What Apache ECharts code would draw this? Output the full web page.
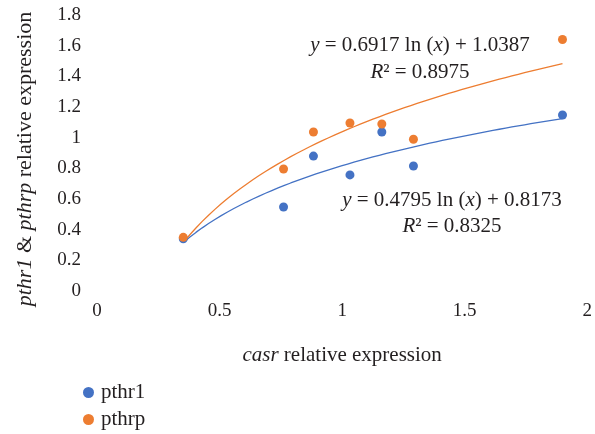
<!DOCTYPE html>
<html>
<head>
<meta charset="utf-8">
<script src="https://cdn.jsdelivr.net/npm/echarts@6/dist/echarts.min.js"></script>
<style>html,body{margin:0;padding:0;background:#fff;}#c{width:595px;height:434px;}</style>
</head>
<body>
<div id="c"></div>
<script>
// casr relative expression (x) for each sample
var casrX = [0.352, 0.761, 0.883, 1.032, 1.162, 1.291, 1.899];
// pthr1 relative expression
var pthr1Y = [0.34, 0.548, 0.88, 0.757, 1.037, 0.815, 1.148];
// pthrp relative expression
var pthrpY = [0.35, 0.796, 1.037, 1.096, 1.089, 0.99, 1.64];
// logarithmic trendline coefficients [a, b, R2] : y = a ln(x) + b
var pthr1Fit = [0.4795, 0.8173, 0.8325];
var pthrpFit = [0.6917, 1.0387, 0.8975];
var xTicks = [0, 0.5, 1, 1.5, 2];
var yTicks = [0, 0.2, 0.4, 0.6, 0.8, 1, 1.2, 1.4, 1.6, 1.8];
var seriesNames = ['pthr1', 'pthrp'];

var FONT = "'Liberation Serif', serif";
var TXT = '#231f20';
var BLUE = '#4472C4', ORANGE = '#ED7D31';
var FS = 21;
function pairs(xs, ys){ return xs.map(function(x,i){ return [x, ys[i]]; }); }
function trend(fit){
  var lo = Math.min.apply(null, casrX), hi = Math.max.apply(null, casrX), out = [];
  for (var k = 0; k <= 60; k++){ var x = lo + (hi-lo)*k/60; out.push([x, fit[0]*Math.log(x)+fit[1]]); }
  return out;
}
function eqText(fit){ return '{i|y}{n| = ' + fit[0].toFixed(4) + ' ln (}{i|x}{n|) + ' + fit[1].toFixed(4) + '}'; }
function r2Text(fit){ return '{i|R}{n|² = ' + fit[2].toFixed(4) + '}'; }
function mkRich(fs){
  return {
    i: { fontStyle: 'italic', fontFamily: FONT, fontSize: fs, fill: TXT, color: TXT },
    n: { fontStyle: 'normal', fontFamily: FONT, fontSize: fs, fill: TXT, color: TXT }
  };
}
function legendFor(name, top){
  return {
    orient: 'vertical', left: 78, top: top, itemWidth: 11, itemHeight: 11, itemGap: 0,
    data: [{name: name, icon: 'circle'}],
    textStyle: { fontFamily: FONT, fontSize: FS, color: TXT, padding: [0,0,0,2] }
  };
}
function eqGraphic(text, x, y){
  return { type: 'text', x: x, y: y, style: { text: text, rich: mkRich(FS), font: FS + "px 'Liberation Serif', serif", fill: TXT, align: 'center', verticalAlign: 'middle', textAlign: 'center', textVerticalAlign: 'middle' } };
}

var chart = echarts.init(document.getElementById('c'));
chart.setOption({
  animation: false,
  backgroundColor: '#fff',
  grid: { left: 97, right: 4, top: 15, bottom: 143, containLabel: false },
  xAxis: {
    type: 'value', min: xTicks[0], max: xTicks[xTicks.length-1], interval: 0.5,
    axisLine: { show: false }, axisTick: { show: false }, splitLine: { show: false },
    axisLabel: { fontFamily: FONT, fontSize: 19, color: TXT, margin: 11 },
    name: '{i|casr}{n| relative expression}', nameLocation: 'middle', nameGap: 54,
    nameTextStyle: { fontFamily: FONT, fontSize: FS, color: TXT, rich: mkRich(FS) }
  },
  yAxis: {
    type: 'value', min: yTicks[0], max: yTicks[yTicks.length-1], interval: 0.2,
    axisLine: { show: false }, axisTick: { show: false }, splitLine: { show: false },
    axisLabel: { fontFamily: FONT, fontSize: 19, color: TXT, margin: 16 },
    name: '{i|pthr1}{n| & }{i|pthrp}{n| relative expression}', nameLocation: 'middle', nameRotate: 90, nameGap: 61,
    nameTextStyle: { fontFamily: FONT, fontSize: 22, color: TXT, rich: mkRich(22), padding: [0, 12, 0, 0] }
  },
  legend: [ legendFor(seriesNames[0], 377), legendFor(seriesNames[1], 404) ],
  series: [
    { name: seriesNames[0], type: 'scatter', data: pairs(casrX, pthr1Y), symbolSize: 9, itemStyle: { color: BLUE, opacity: 1 }, z: 3 },
    { name: seriesNames[1], type: 'scatter', data: pairs(casrX, pthrpY), symbolSize: 9, itemStyle: { color: ORANGE, opacity: 1 }, z: 3 },
    { name: 'pthr1 fit', type: 'line', data: trend(pthr1Fit), showSymbol: false, smooth: false,
      lineStyle: { color: BLUE, width: 1.3 }, z: 2 },
    { name: 'pthrp fit', type: 'line', data: trend(pthrpFit), showSymbol: false, smooth: false,
      lineStyle: { color: ORANGE, width: 1.3 }, z: 2 }
  ],
  graphic: [
    eqGraphic(eqText(pthrpFit), 420, 45),
    eqGraphic(r2Text(pthrpFit), 420, 72),
    eqGraphic(eqText(pthr1Fit), 452, 200),
    eqGraphic(r2Text(pthr1Fit), 452, 226)
  ]
});
</script>
</body>
</html>
